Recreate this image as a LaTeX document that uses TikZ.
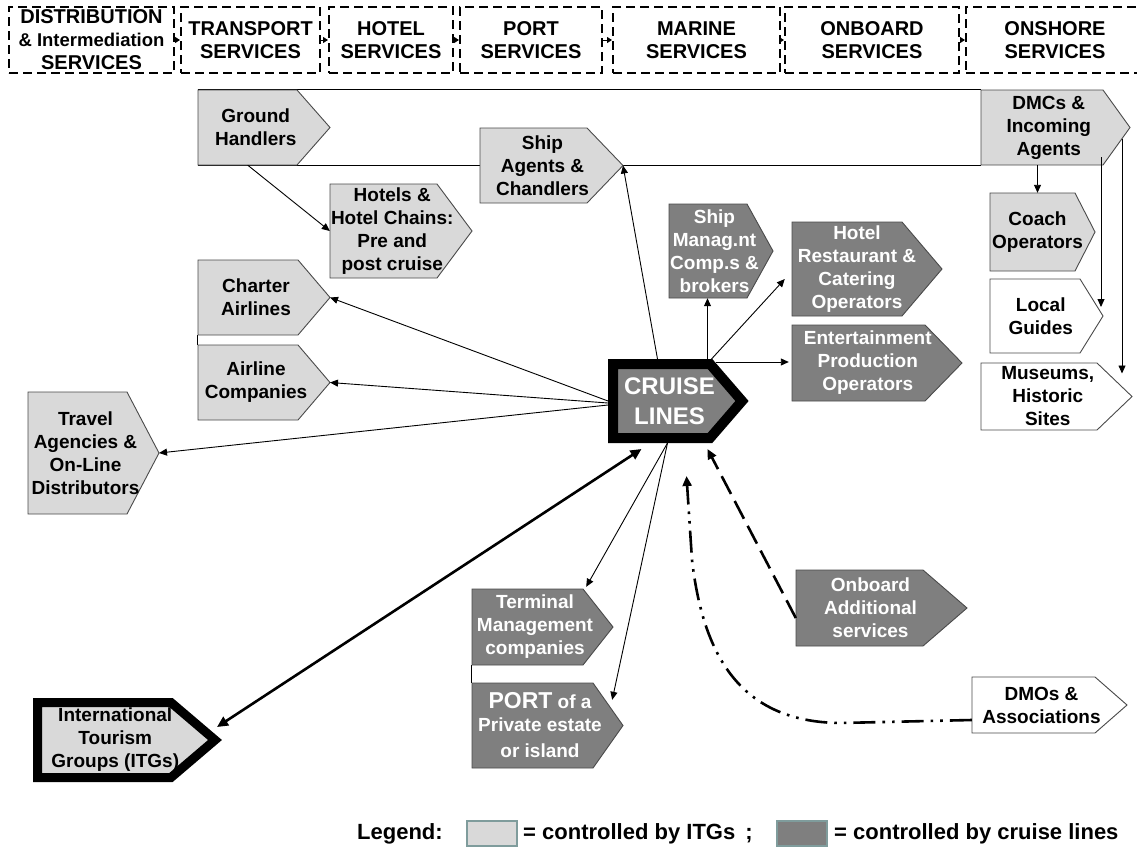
\documentclass[tikz,border=0pt]{standalone}
\usepackage{fontspec}
\setmainfont{Liberation Sans}
\usetikzlibrary{arrows.meta,backgrounds}

\definecolor{lgray}{HTML}{D9D9D9}
\definecolor{dgray}{HTML}{7F7F7F}
\definecolor{edge}{HTML}{4A4A4A}
\definecolor{swatch}{HTML}{7F9C9C}

\newcommand\fs[2]{\fontsize{#1}{#2}\selectfont}

% pentagon arrow box: name, style, left x, top y, body width, height, tip depth, text
\newcommand\pent[8]{%
  \path[#2] (#3,#4) -- ++(#5,0) -- ++(#7,{#6/2}) -- ++(-#7,{#6/2}) -- ++(-#5,0) -- cycle;
  \node[#2 txt, minimum width={#5+#7/2}, minimum height=#6] (#1) at ({#3+#5/2+#7/4},{#4+#6/2}) {#8};
  \coordinate (#1-tip) at ({#3+#5+#7},{#4+#6/2});
}

\tikzset{
  lite/.style={fill=lgray, draw=edge, line width=0.9pt},
  lite txt/.style={inner sep=0pt, align=center, text=black, font=\bfseries\fs{19}{23}},
  dark/.style={fill=dgray, draw=edge, line width=0.9pt},
  dark txt/.style={inner sep=0pt, align=center, text=white, font=\bfseries\fs{19}{23}},
  blank/.style={fill=white, draw=edge, line width=0.9pt},
  blank txt/.style={lite txt},
  cruise/.style={fill=dgray, draw=black, line width=10pt},
  cruise txt/.style={inner sep=0pt, outer sep=5pt, align=center, text=white, font=\bfseries\fs{24}{30}},
  itg/.style={fill=lgray, draw=black, line width=9pt},
  itg txt/.style={inner sep=0pt, outer sep=4.5pt, align=center, text=black, font=\bfseries\fs{19}{23}},
  head/.style={draw=black, line width=2pt, dash pattern=on 9pt off 5pt, align=center,
    font=\bfseries\fs{20}{23}, inner sep=0pt, minimum height=66},
  hlink/.style={draw=black, line width=1pt, -{Triangle[length=5pt,width=6pt]}},
  frame/.style={draw=black, line width=0.9pt},
  link/.style={draw=black, line width=0.9pt, -{Triangle[length=8pt,width=7pt]}},
  bothway/.style={draw=black, line width=2.6pt, {Triangle[length=11pt,width=10pt]}-{Triangle[length=11pt,width=10pt]}},
  dashlink/.style={draw=black, line width=2.6pt, dash pattern=on 20pt off 8pt, -{Triangle[length=10pt,width=9pt]}},
  dotlink/.style={draw=black, line width=2.6pt, dash pattern=on 22pt off 7pt on 2.6pt off 7pt on 2.6pt off 7pt,
    -{Triangle[length=10pt,width=9pt]}},
  swbox/.style={draw=swatch, line width=2pt, minimum width=50, minimum height=25, inner sep=0pt},
  legtxt/.style={anchor=west, inner sep=0pt, font=\bfseries\fs{22}{26}},
}

\begin{document}
\begin{tikzpicture}[x=1pt, y=-1pt]
\useasboundingbox (0,0) rectangle (1137,852);
\clip (0,0) rectangle (1137,852);

% value chain stages
\node[head, minimum width=165] (H1) at (91.5,40) {DISTRIBUTION\\{\fs{18.5}{23}\& Intermediation}\\SERVICES};
\node[head, minimum width=139] (H2) at (250.5,40) {TRANSPORT\\SERVICES};
\node[head, minimum width=124] (H3) at (391,40) {HOTEL\\SERVICES};
\node[head, minimum width=142] (H4) at (531,40) {PORT\\SERVICES};
\node[head, minimum width=167] (H5) at (696.5,40) {MARINE\\SERVICES};
\node[head, minimum width=174] (H6) at (872,40) {ONBOARD\\SERVICES};
\node[head, minimum width=178] (H7) at (1055,40) {ONSHORE\\SERVICES};
\draw[hlink] (H1.east) -- (H2.west);
\draw[hlink] (H2.east) -- (H3.west);
\draw[hlink] (H3.east) -- (H4.west);
\draw[hlink] (H4.east) -- (H5.west);
\draw[hlink] (H5.east) -- (H6.west);
\draw[hlink] (H6.east) -- (H7.west);

% actors controlled by ITGs / cruise lines / others
\pent{GH}{lite}{198}{90}{99}{75}{33}{Ground\\Handlers}
\pent{SA}{lite}{480}{128}{107}{75}{36}{Ship\\Agents \&\\Chandlers}
\pent{HO}{lite}{330}{184}{107}{94}{35}{Hotels \&\\Hotel Chains:\\Pre and\\post cruise}
\pent{CA}{lite}{198}{260}{100}{75}{32}{Charter\\Airlines}
\pent{AC}{lite}{198}{345}{100}{75}{32}{Airline\\Companies}
\pent{TA}{lite}{28}{392}{99}{122}{32}{Travel\\Agencies \&\\On-Line\\Distributors}
\pent{DC}{lite}{981}{90}{122}{75}{27}{DMCs \&\\Incoming\\Agents}
\pent{CO}{lite}{990}{193}{85}{78}{20}{Coach\\Operators}
\pent{LG}{blank}{990}{279}{90}{74}{23}{Local\\Guides}
\pent{MU}{blank}{981}{363}{116}{67}{35}{Museums,\\Historic\\Sites}
\pent{SM}{dark}{669}{204}{78}{94}{26}{Ship\\Manag.nt\\Comp.s \&\\brokers}
\pent{HR}{dark}{792}{222}{110}{94}{40}{Hotel\\Restaurant \&\\Catering\\Operators}
\pent{EP}{dark}{792}{325}{133}{76}{37}{Entertainment\\Production\\Operators}
\pent{OA}{dark}{796}{570}{127}{76}{44}{Onboard\\Additional\\services}
\pent{TM}{dark}{472}{589}{111}{76}{30}{Terminal\\Management\\companies}
\pent{PO}{dark}{472}{683}{121}{85}{30}{{\fs{23}{23}PORT} of a\\Private estate\\[3pt]or island}
\pent{DO}{blank}{972}{677}{123}{56}{32}{DMOs \&\\Associations}
\pent{CL}{cruise}{613}{364}{97}{74}{32}{CRUISE\\LINES}
\pent{IT}{itg}{37.5}{702.5}{133.5}{75}{44}{International\\Tourism\\Groups (ITGs)}

% page background and grouping frames behind the boxes
\begin{scope}[on background layer]
  \fill[white] (0,0) rectangle (1137,852);
  \draw[frame] (GH.north west) -- (DC.north west);
  \draw[frame] (GH.south west) -- (DC.south west);
  \draw[frame] (CA.south west) -- (AC.north west);
  \draw[frame] (TM.south west) -- (PO.north west);
\end{scope}

% relations
\draw[link] ([xshift=-8pt]GH.south) -- (HO.west);
\draw[link] ([xshift=-12pt]CL.north) -- (SA-tip);
\draw[link] ([xshift=38pt]CL.north) coordinate (smb) -- (smb |- SM.south);
\draw[link] ([xshift=42pt]CL.north) -- ([xshift=-7pt,yshift=-10pt]HR.west);
\draw[link, shorten >=3pt] ([xshift=46pt,yshift=-3pt]CL.north) coordinate (epb) -- (epb -| EP.west);
\draw[link] (CL.west) -- (CA-tip);
\draw[link] ([yshift=-2pt]CL.west) -- (AC-tip);
\draw[link] ([yshift=-4pt]CL.west) -- (TA-tip);
\draw[bothway] ([xshift=-28pt,yshift=-6pt]CL.south) -- ([xshift=2pt,yshift=13pt]IT-tip);
\draw[link] ([xshift=-2pt]CL.south) -- ([xshift=-12pt,yshift=2pt]TM.north east);
\draw[link] ([xshift=-2pt]CL.south) -- ([xshift=4pt,yshift=-17pt]PO.north east);
\draw[dashlink] ([yshift=-10pt]OA.west) -- ([xshift=38pt,yshift=-6pt]CL.south);
\draw[dotlink] ([yshift=-15pt]DO.west) -- (840,723) .. controls (740,722) and (703,655) .. (692,560)
  -- ([xshift=17pt,yshift=-33pt]CL.south);
\draw[link] (CO.north |- DC.south) -- (CO.north);
\draw[link] ([xshift=-2pt,yshift=8pt]LG-tip |- DC.south) -- ([xshift=-2pt,yshift=9pt]LG-tip);
\draw[link] ([xshift=-8pt,yshift=-11pt]DC-tip) -- ([xshift=-10pt,yshift=23pt]MU-tip);

% legend
\node[legtxt] (leg) at (357,834) {Legend:};
\node[swbox, fill=lgray] (sw1) at (492,833) {};
\node[legtxt] (t1) at (523,834) {= controlled by ITGs\hspace{10pt};};
\node[swbox, fill=dgray] (sw2) at (802,833) {};
\node[legtxt] (t2) at (834,834) {= controlled by cruise lines};
\end{tikzpicture}
\end{document}
